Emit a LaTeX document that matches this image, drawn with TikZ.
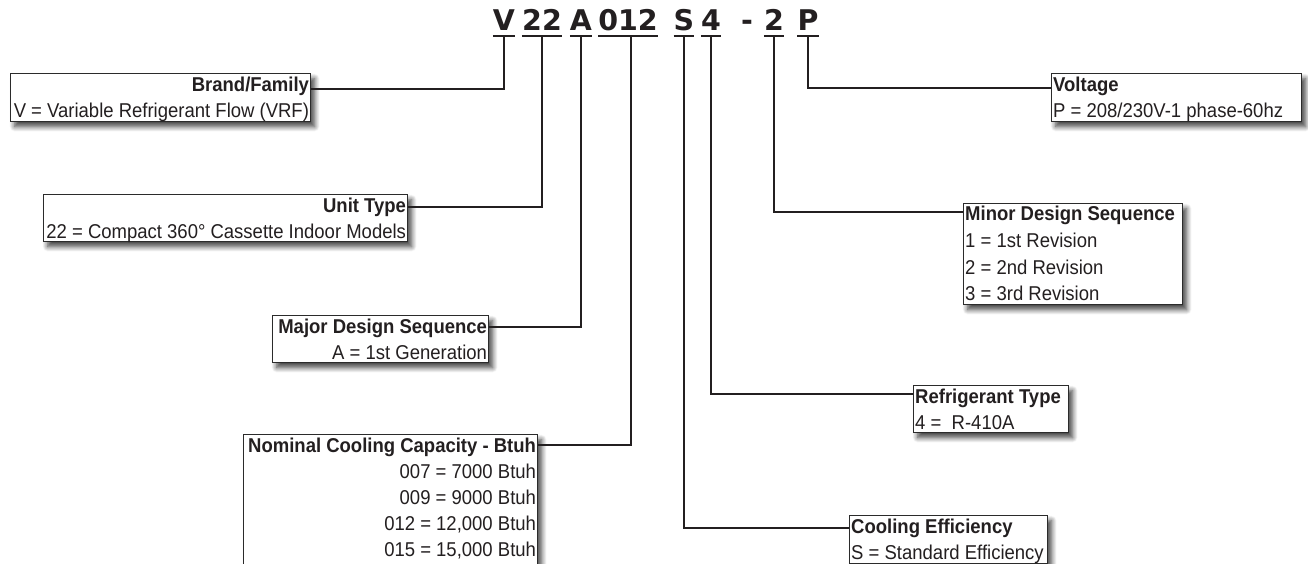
\documentclass[tikz,border=0pt]{standalone}
\usepackage{fontspec}
\setmainfont{Liberation Sans}[FakeStretch=0.925]
\newfontfamily\codefont{DejaVu Sans}
\usetikzlibrary{shadows.blur}
\definecolor{ink}{HTML}{231F20}
\definecolor{boxc}{HTML}{2B2B2B}
\tikzset{
  conn/.style={line width=2pt, draw=ink},
  uline/.style={line width=2.4pt, draw=ink},
  codech/.style={inner sep=0pt, font=\codefont\bfseries\fontsize{28.5}{30}\selectfont, text=ink, anchor=base},
  kbox/.style={draw=boxc, line width=1.2pt, fill=white, inner sep=0pt, anchor=north west,
    blur shadow={shadow xshift=4pt, shadow yshift=-5pt, shadow blur radius=5pt, shadow blur steps=10, shadow opacity=75}},
  lbl/.style={inner sep=0pt, font=\fontsize{20}{22}\selectfont, text=ink},
  ttl/.style={inner sep=0pt, font=\bfseries\fontsize{20}{22}\selectfont, text=ink},
}
\begin{document}
\begin{tikzpicture}[x=1pt,y=-1pt]
\useasboundingbox (0,0) rectangle (1308,563);
% code characters
\node[codech] (cV) at (504,30) {V};
\node[codech] (c22) at (542,30) {22};
\node[codech] (cA) at (581,30) {A};
\node[codech] (c012) at (628,30) {012};
\node[codech] (cS) at (684,30) {S};
\node[codech] (c4) at (711,30) {4};
\node[codech] (cdash) at (747,30) {-};
\node[codech] (c2) at (774,30) {2};
\node[codech] (cP) at (808,30) {P};
\foreach \n in {cV,c22,cA,c012,cS,c4,c2,cP}{
  \draw[uline] ([yshift=-6pt]\n.base west) -- ([yshift=-6pt]\n.base east);
}
% boxes
\node[kbox, minimum width=300pt, minimum height=48pt] (brand) at (10,73) {};
\node[kbox, minimum width=364pt, minimum height=47pt] (unit) at (43,194) {};
\node[kbox, minimum width=216pt, minimum height=47pt] (major) at (272,315) {};
\node[kbox, minimum width=294pt, minimum height=140pt] (nom) at (243,434) {};
\node[kbox, minimum width=250pt, minimum height=48pt] (volt) at (1051,73) {};
\node[kbox, minimum width=219pt, minimum height=101pt] (minor) at (963,203) {};
\node[kbox, minimum width=155pt, minimum height=47pt] (refr) at (913,385) {};
\node[kbox, minimum width=198pt, minimum height=48pt] (cool) at (849,515) {};
% texts: right aligned
\node[ttl, anchor=base east] (brand-t) at ([xshift=-2pt,yshift=-18.5pt]brand.north east) {Brand/Family};
\node[lbl, anchor=base east] (brand-1) at ([xshift=-2pt,yshift=-44.5pt]brand.north east) {V = Variable Refrigerant Flow (VRF)};
\node[ttl, anchor=base east] (unit-t) at ([xshift=-2pt,yshift=-18.5pt]unit.north east) {Unit Type};
\node[lbl, anchor=base east] (unit-1) at ([xshift=-2pt,yshift=-44.5pt]unit.north east) {22 = Compact 360° Cassette Indoor Models};
\node[ttl, anchor=base east] (major-t) at ([xshift=-2pt,yshift=-18.5pt]major.north east) {Major Design Sequence};
\node[lbl, anchor=base east] (major-1) at ([xshift=-2pt,yshift=-44.5pt]major.north east) {A = 1st Generation};
\node[ttl, anchor=base east] (nom-t) at ([xshift=-2pt,yshift=-18pt]nom.north east) {Nominal Cooling Capacity - Btuh};
\node[lbl, anchor=base east] (nom-1) at ([xshift=-2pt,yshift=-44.5pt]nom.north east) {007 = 7000 Btuh};
\node[lbl, anchor=base east] (nom-2) at ([xshift=-2pt,yshift=-70.5pt]nom.north east) {009 = 9000 Btuh};
\node[lbl, anchor=base east] (nom-3) at ([xshift=-2pt,yshift=-96.5pt]nom.north east) {012 = 12,000 Btuh};
\node[lbl, anchor=base east] (nom-4) at ([xshift=-2pt,yshift=-122.5pt]nom.north east) {015 = 15,000 Btuh};
% texts: left aligned
\node[ttl, anchor=base west] (volt-t) at ([xshift=2pt,yshift=-18.5pt]volt.north west) {Voltage};
\node[lbl, anchor=base west] (volt-1) at ([xshift=2pt,yshift=-44.5pt]volt.north west) {P = 208/230V-1 phase-60hz};
\node[ttl, anchor=base west] (minor-t) at ([xshift=2pt,yshift=-17.5pt]minor.north west) {Minor Design Sequence};
\node[lbl, anchor=base west] (minor-1) at ([xshift=2pt,yshift=-44pt]minor.north west) {1 = 1st Revision};
\node[lbl, anchor=base west] (minor-2) at ([xshift=2pt,yshift=-71pt]minor.north west) {2 = 2nd Revision};
\node[lbl, anchor=base west] (minor-3) at ([xshift=2pt,yshift=-97.5pt]minor.north west) {3 = 3rd Revision};
\node[ttl, anchor=base west] (refr-t) at ([xshift=2pt,yshift=-18.5pt]refr.north west) {Refrigerant Type};
\node[lbl, anchor=base west] (refr-1) at ([xshift=2pt,yshift=-44.5pt]refr.north west) {4 =\ \ R-410A};
\node[ttl, anchor=base west] (cool-t) at ([xshift=2pt,yshift=-18.5pt]cool.north west) {Cooling Efficiency};
\node[lbl, anchor=base west] (cool-1) at ([xshift=2pt,yshift=-44.5pt]cool.north west) {S = Standard Efficiency};
% connectors
\draw[conn] ([yshift=-6pt]cV.base) |- ([yshift=-16pt]brand.north east);
\draw[conn] ([yshift=-6pt]c22.base) |- ([yshift=-13pt]unit.north east);
\draw[conn] ([yshift=-6pt]cA.base) |- ([yshift=-12pt]major.north east);
\draw[conn] ([xshift=3pt,yshift=-6pt]c012.base) |- ([yshift=-11pt]nom.north east);
\draw[conn] ([yshift=-6pt]cP.base) |- ([yshift=-15pt]volt.north west);
\draw[conn] ([yshift=-6pt]c2.base) |- ([yshift=-9pt]minor.north west);
\draw[conn] ([yshift=-6pt]c4.base) |- ([yshift=-9pt]refr.north west);
\draw[conn] ([yshift=-6pt]cS.base) |- ([yshift=-13pt]cool.north west);
\end{tikzpicture}
\end{document}
